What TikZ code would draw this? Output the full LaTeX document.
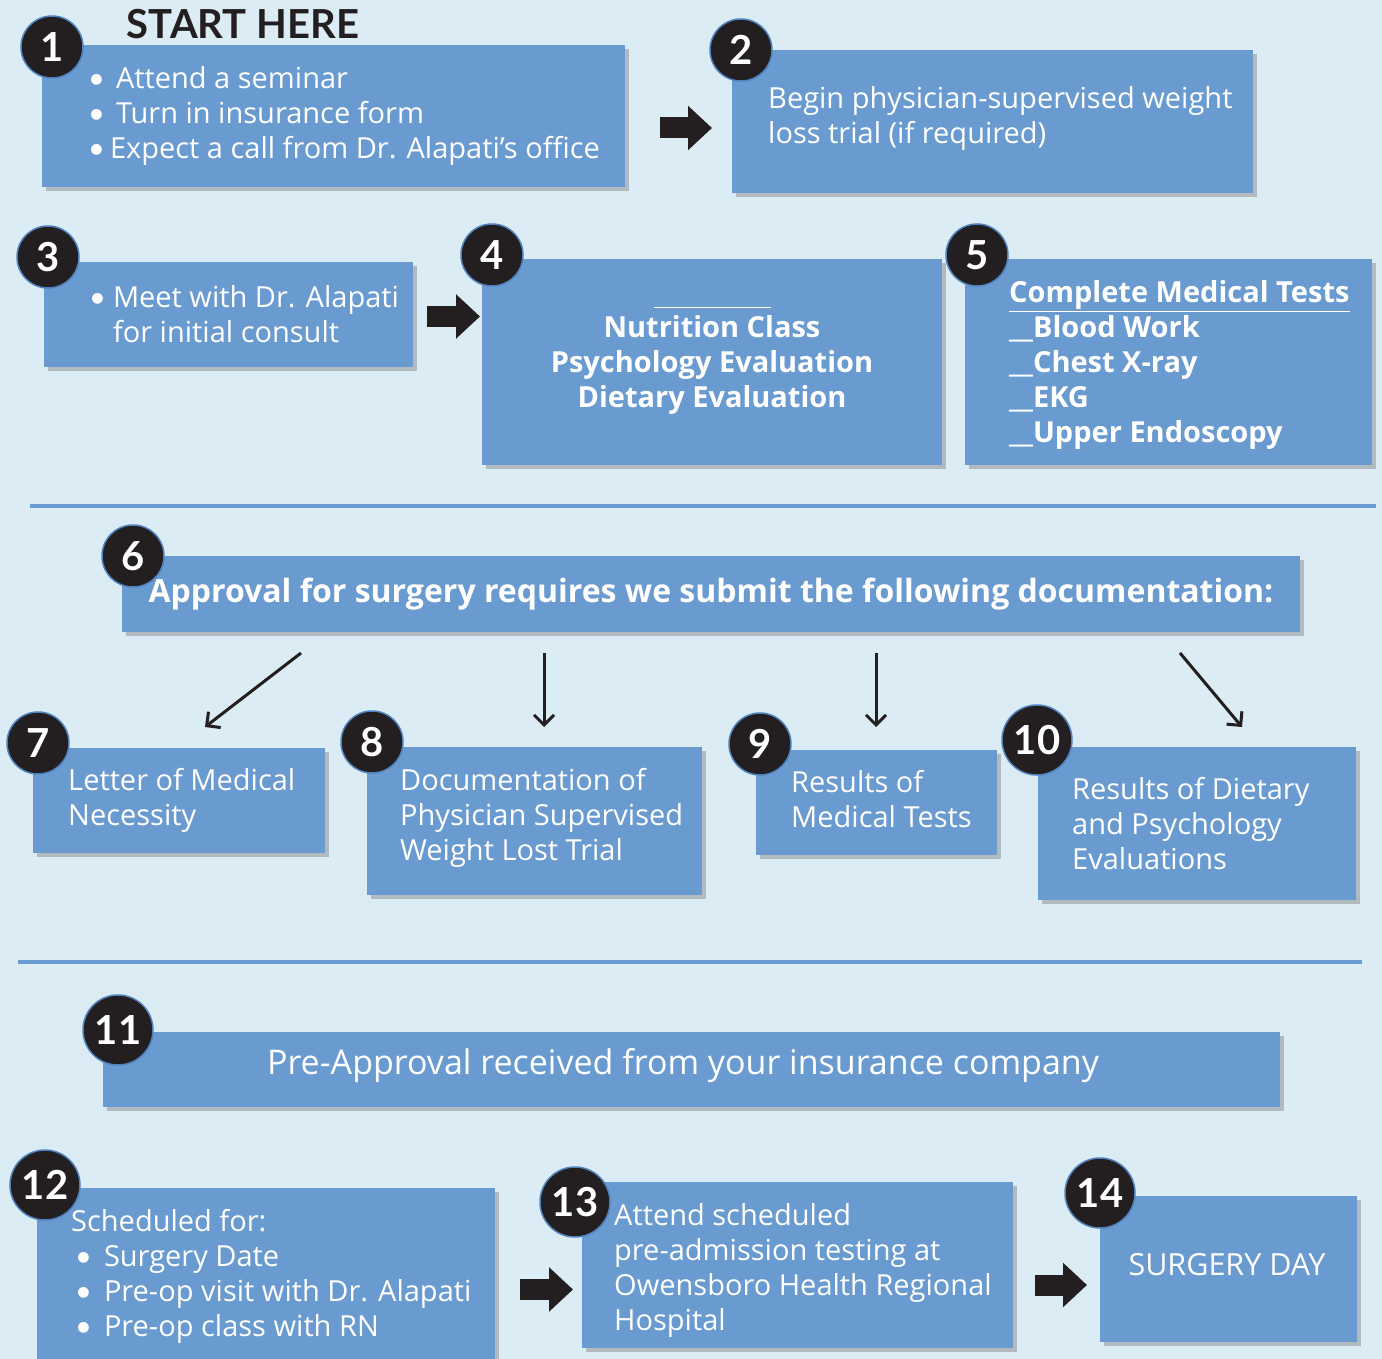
\documentclass[tikz,border=0pt]{standalone}
\usepackage{fontspec}
\setmainfont{Open Sans}
\newfontfamily\badgefont{Lato}
\usepackage{tikz}
\usetikzlibrary{arrows.meta,calc,positioning,shadows}
\newcommand{\dotmark}{{\badgefont\textbullet}}
\definecolor{stageblue}{HTML}{6A9BD0}
\definecolor{paper}{HTML}{DBECF4}
\definecolor{ink}{HTML}{231F20}
\definecolor{rimblue}{HTML}{4F82BE}
\tikzstyle{stage}=[
  rectangle,
  fill=stageblue,
  inner sep=0pt,
  outer sep=0pt,
  drop shadow={shadow xshift=4pt, shadow yshift=-4pt, opacity=.45},
]
\tikzstyle{stagetext}=[
  align=left,
  inner sep=0pt,
  text=white,
  font={\fontsize{29}{35}\selectfont},
]
\tikzstyle{boldtext}=[
  stagetext,
  font={\fontsize{29}{35}\bfseries\selectfont},
]
\tikzstyle{badge}=[
  circle,
  fill=ink,
  draw=rimblue,
  line width=1.5pt,
  minimum size=62pt,
  inner sep=0pt,
  text=white,
  font={\badgefont\fontsize{40}{40}\bfseries\selectfont},
]
\tikzstyle{widebadge}=[
  badge,
  minimum size=70pt,
]
\tikzstyle{blockarrow}=[
  draw=ink,
  line width=21pt,
  -{Triangle[length=24pt,width=43pt]},
]
\tikzstyle{docarrow}=[
  draw=ink,
  line width=3pt,
  -{Straight Barb[length=10pt,width=20pt]},
]
\tikzstyle{divider}=[
  draw=stageblue,
  line width=4pt,
]
\tikzset{
  x=1pt,
  y=-1pt,
}

\begin{document}
\begin{tikzpicture}
    \fill [paper] (0,0) rectangle (1382,1359);
    \useasboundingbox (0,0) rectangle (1382,1359);

    % row one
    \node (start) [text=ink, font={\badgefont\fontsize{40}{40}\bfseries\selectfont}, inner sep=0pt] at (243,24) {START HERE};
    \node (b1) [stage, minimum width=583pt, minimum height=142pt] at (333.5,116) {};
    \node (t1) [stagetext, right=46pt of b1.west] {\dotmark\hspace{11pt}Attend a seminar\\
      \dotmark\hspace{11pt}Turn in insurance form\\
      \dotmark\hspace{5pt}Expect a call from Dr. Alapati’s office};
    \node (b2) [stage, minimum width=521pt, minimum height=143pt] at (992.5,121.5) {};
    \node (t2) [stagetext, right=36pt of b2.west, yshift=3pt] {Begin physician-supervised weight\\loss trial (if required)};
    \node (n1) [badge] at (52,47) {1};
    \node (n2) [badge] at (741,50) {2};
    \draw [blockarrow, shorten <=35pt, shorten >=20pt] ([yshift=-12pt]b1.east) -- ([yshift=-12pt]b1.east -| b2.west);

    % row two
    \node (b3) [stage, minimum width=369pt, minimum height=105pt] at (228.5,314.5) {};
    \node (t3) [stagetext, right=45pt of b3.west] {\dotmark\hspace{7pt}Meet with Dr. Alapati\\\hphantom{\dotmark\hspace{7pt}}for initial consult};
    \node (b4) [stage, minimum width=460pt, minimum height=206pt] at (712,362) {};
    \node (t4) [boldtext, align=center] at ([yshift=-3pt]b4.center) {Nutrition Class\\Psychology Evaluation\\Dietary Evaluation};
    \draw [white, line width=1pt] ($(t4.north)+(-58pt,8pt)$) -- ++(117,0);
    \node (b5) [stage, minimum width=407pt, minimum height=206pt] at (1168.5,362) {};
    \node (t5) [boldtext, right=44pt of b5.west, yshift=-3pt] {\underline{Complete Medical Tests}\\
      \_\_Blood Work\\\_\_Chest X-ray\\\_\_EKG\\\_\_Upper Endoscopy};
    \node (n3) [badge] at (48,257) {3};
    \node (n4) [badge] at (492,255) {4};
    \node (n5) [badge] at (977,255) {5};
    \draw [blockarrow, shorten <=14pt, shorten >=2pt] ([yshift=-2pt]b3.east) -- ([yshift=-2pt]b3.east -| b4.west);

    \draw [divider] (30,506) -- (1376,506);

    % documentation
    \node (b6) [stage, minimum width=1178pt, minimum height=76pt] at (711,594) {};
    \node (t6) [boldtext, font={\fontsize{32}{35}\bfseries\selectfont}] at (b6.center) {Approval for surgery requires we submit the following documentation:};
    \node (n6) [badge] at (133,556) {6};

    \node (b7) [stage, minimum width=292pt, minimum height=105pt] at (179,800.5) {};
    \node (t7) [stagetext, right=35pt of b7.west] {Letter of Medical\\Necessity};
    \node (b8) [stage, minimum width=335pt, minimum height=148pt] at (534.5,821) {};
    \node (t8) [stagetext, right=33pt of b8.west, yshift=3pt] {Documentation of\\Physician Supervised\\Weight Lost Trial};
    \node (b9) [stage, minimum width=241pt, minimum height=105pt] at (876.5,802.5) {};
    \node (t9) [stagetext, right=35pt of b9.west, yshift=3pt] {Results of\\Medical Tests};
    \node (b10) [stage, minimum width=318pt, minimum height=153pt] at (1197,823.5) {};
    \node (t10) [stagetext, right=34pt of b10.west] {Results of Dietary\\and Psychology\\Evaluations};
    \node (n7) [badge] at (38,743) {7};
    \node (n8) [badge] at (372,742) {8};
    \node (n9) [badge] at (760,744) {9};
    \node (n10) [widebadge] at (1037,740) {10};

    \coordinate (s7) at (301,653);
    \coordinate (e7) at (205,727);
    \coordinate (s8) at (544,653);
    \coordinate (e8) at (544,727);
    \coordinate (s9) at (876,653);
    \coordinate (e9) at (876,727);
    \coordinate (s10) at (1180,653);
    \coordinate (e10) at (1242,727);
    \draw [docarrow] (s7) -- (e7);
    \draw [docarrow] (s8) -- (e8);
    \draw [docarrow] (s9) -- (e9);
    \draw [docarrow] (s10) -- (e10);

    \draw [divider] (18,962) -- (1362,962);

    % approval and surgery
    \node (b11) [stage, minimum width=1177pt, minimum height=75pt] at (691.5,1069.5) {};
    \node (t11) [stagetext, font={\fontsize{34}{35}\selectfont}] at (683,1066) {Pre-Approval received from your insurance company};
    \node (n11) [widebadge] at (118,1030) {11};

    \node (b12) [stage, minimum width=458pt, minimum height=177pt] at (266,1276.5) {};
    \node (t12) [stagetext, right=34pt of b12.west] {Scheduled for:\\
      \hspace{4pt}\dotmark\hspace{12pt}Surgery Date\\
      \hspace{4pt}\dotmark\hspace{12pt}Pre-op visit with Dr. Alapati\\
      \hspace{4pt}\dotmark\hspace{12pt}Pre-op class with RN};
    \node (b13) [stage, minimum width=431pt, minimum height=166pt] at (797.5,1265) {};
    \node (t13) [stagetext, right=32pt of b13.west, yshift=-5pt] {Attend scheduled\\pre-admission testing at\\Owensboro Health Regional\\Hospital};
    \node (b14) [stage, minimum width=257pt, minimum height=146pt] at (1228.5,1269) {};
    \node (t14) [stagetext, font={\fontsize{30.5}{35}\selectfont}] at (1227,1265) {SURGERY DAY};
    \node (n12) [widebadge] at (45,1185) {12};
    \node (n13) [widebadge] at (575,1202) {13};
    \node (n14) [widebadge] at (1100,1193) {14};
    \draw [blockarrow, shorten <=25pt, shorten >=9pt] ([yshift=-13pt]b12.east) -- ([yshift=-13pt]b12.east -| b13.west);
    \draw [blockarrow, shorten <=22pt, shorten >=13pt] ([yshift=-20pt]b13.east) -- ([yshift=-20pt]b13.east -| b14.west);
  \end{tikzpicture}
\end{document}
